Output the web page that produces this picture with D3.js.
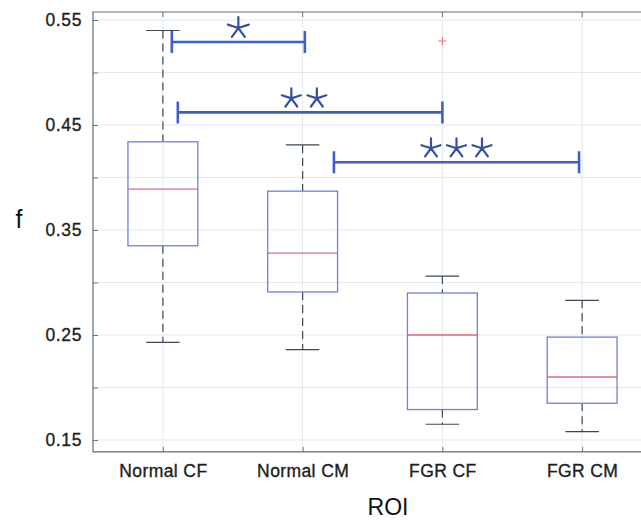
<!DOCTYPE html>
<html><head><meta charset="utf-8">
<script src="https://cdn.jsdelivr.net/npm/d3@7"></script>
<style>body{margin:0;background:#fff}svg{display:block}</style>
</head><body>
<script>
const categories = ["Normal CF", "Normal CM", "FGR CF", "FGR CM"];
const whiskerLow  = [0.243, 0.236, 0.165, 0.158];
const q1          = [0.335, 0.291, 0.179, 0.185];
const medians     = [0.389, 0.328, 0.250, 0.210];
const q3          = [0.434, 0.387, 0.290, 0.248];
const whiskerHigh = [0.540, 0.431, 0.306, 0.283];
const outlierCats = ["FGR CF"];
const outlierVals = [0.530];
const yTickVals   = [0.15, 0.25, 0.35, 0.45, 0.55];
const yMinorVals  = [0.20, 0.30, 0.40, 0.50];
const sigFrom     = [1.064, 1.107, 2.224];
const sigTo       = [2.016, 3.0, 3.978];
const sigLevel    = [0.529, 0.462, 0.4145];
const sigStars    = [1, 2, 3];

const W = 641, H = 520;
const svg = d3.select("body").append("svg").attr("width", W).attr("height", H);
const x = d3.scaleLinear().domain([0.5, 4.5]).range([93, 652]);
const y = d3.scaleLinear().domain([0.15, 0.55]).range([440, 20]);
const yTop = 0.5576, yBot = 0.1386;
const font = "'Liberation Sans', Arial, Helvetica, sans-serif";

const grid = svg.append("g").attr("stroke", "#e3e9ee").attr("stroke-width", 1);
yTickVals.concat(yMinorVals).forEach(v => {
  grid.append("line").attr("x1", x(0.5)).attr("x2", x(4.5)).attr("y1", y(v)).attr("y2", y(v));
});
categories.forEach((c, i) => {
  grid.append("line").attr("x1", x(i + 1)).attr("x2", x(i + 1)).attr("y1", y(yTop)).attr("y2", y(yBot));
});

// axes using d3 axis (ticks inward)
const yAxis = d3.axisLeft(y).tickValues(yTickVals.concat(yMinorVals)).tickSize(-5)
  .tickFormat(d => yTickVals.some(t => Math.abs(t - d) < 1e-9) ? d3.format(".2f")(d) : "");
const gy = svg.append("g").attr("transform", `translate(${x(0.5)},0)`).call(yAxis);
gy.select(".domain").remove();
gy.selectAll(".tick line").attr("stroke", "#6a7884");
gy.selectAll(".tick text").attr("x", -11).attr("font-family", font).attr("font-size", 17.5)
  .attr("letter-spacing", 0.6).attr("fill", "#1e1e1e").attr("stroke", "#1e1e1e").attr("stroke-width", 0.35);

const xAxis = d3.axisBottom(x).tickValues([1, 2, 3, 4]).tickSize(-5).tickFormat(d => categories[d - 1]);
const gx = svg.append("g").attr("transform", `translate(0,${y(yBot)})`).call(xAxis);
gx.select(".domain").remove();
gx.selectAll(".tick line").attr("stroke", "#6a7884");
gx.selectAll(".tick text").attr("y", 13).attr("font-family", font).attr("font-size", 17.5)
  .attr("letter-spacing", 0.4).attr("fill", "#1e1e1e").attr("stroke", "#1e1e1e").attr("stroke-width", 0.35);

const topTicks = svg.append("g");
[1, 2, 3, 4].forEach(d => topTicks.append("line").attr("x1", x(d)).attr("x2", x(d))
  .attr("y1", y(yTop)).attr("y2", y(yTop) + 5).attr("stroke", "#6a7884"));

// frame
svg.append("path").attr("fill", "none").attr("stroke", "#5d6b78").attr("stroke-width", 1.2)
  .attr("d", `M${x(4.5)},${y(yTop)}H${x(0.5)}V${y(yBot)}H${x(4.5)}`);

// boxes
const boxHalf = 0.25, capHalf = 0.12;
categories.forEach((c, i) => {
  const cx = i + 1;
  const g = svg.append("g");
  g.append("line").attr("x1", x(cx)).attr("x2", x(cx)).attr("y1", y(whiskerHigh[i])).attr("y2", y(q3[i]))
    .attr("stroke", "#3d4a55").attr("stroke-width", 1.2).attr("stroke-dasharray", "8,5");
  g.append("line").attr("x1", x(cx)).attr("x2", x(cx)).attr("y1", y(q1[i])).attr("y2", y(whiskerLow[i]))
    .attr("stroke", "#3d4a55").attr("stroke-width", 1.2).attr("stroke-dasharray", "8,5");
  [whiskerHigh[i], whiskerLow[i]].forEach(v => g.append("line")
    .attr("x1", x(cx - capHalf)).attr("x2", x(cx + capHalf)).attr("y1", y(v)).attr("y2", y(v))
    .attr("stroke", "#3d4a55").attr("stroke-width", 1.2));
  g.append("rect").attr("x", x(cx - boxHalf)).attr("y", y(q3[i]))
    .attr("width", x(cx + boxHalf) - x(cx - boxHalf)).attr("height", y(q1[i]) - y(q3[i]))
    .attr("fill", "none").attr("stroke", "#6f7fe0").attr("stroke-width", 1.3);
  g.append("line").attr("x1", x(cx - boxHalf)).attr("x2", x(cx + boxHalf))
    .attr("y1", y(medians[i])).attr("y2", y(medians[i])).attr("stroke", "#e06a7a").attr("stroke-width", 1.3);
});

// outliers
outlierCats.forEach((c, k) => {
  const px = x(categories.indexOf(c) + 1), py = y(outlierVals[k]);
  svg.append("path").attr("d", `M${px - 4},${py}H${px + 4}M${px},${py - 4}V${py + 4}`)
    .attr("stroke", "#f07070").attr("stroke-width", 1.1);
});

// significance bars
function starPath(cx, cy, r) {
  let d = "";
  for (let k = 0; k < 5; k++) {
    const a = -Math.PI / 2 + k * 2 * Math.PI / 5;
    d += `M${cx},${cy}L${cx + r * Math.cos(a)},${cy + r * Math.sin(a)}`;
  }
  return d;
}
sigFrom.forEach((f, k) => {
  const x1 = x(f), x2 = x(sigTo[k]), yy = y(sigLevel[k]);
  svg.append("path").attr("fill", "none").attr("stroke", "#3f5fc8").attr("stroke-width", 2.6)
    .attr("d", `M${x1},${yy - 11}V${yy + 11}M${x1},${yy}H${x2}M${x2},${yy - 11}V${yy + 11}`);
  const n = sigStars[k], sp = 25.5, mid = (x1 + x2) / 2 + (k === 1 ? -6 : 0);
  const r = n === 1 ? 11 : 10;
  for (let s = 0; s < n; s++) {
    const sx = mid + (s - (n - 1) / 2) * sp;
    svg.append("path").attr("d", starPath(sx, yy - 14, r)).attr("stroke", "#34509f")
      .attr("stroke-width", 2.2).attr("stroke-linecap", "round").attr("fill", "none");
  }
});

// axis titles
svg.append("text").attr("x", 19).attr("y", 228).attr("text-anchor", "middle")
  .attr("font-family", font).attr("font-size", 25).attr("fill", "#111").text("f");
svg.append("text").attr("x", 388).attr("y", 515).attr("text-anchor", "middle")
  .attr("font-family", font).attr("font-size", 23).attr("fill", "#111").text("ROI");
</script>
</body></html>
